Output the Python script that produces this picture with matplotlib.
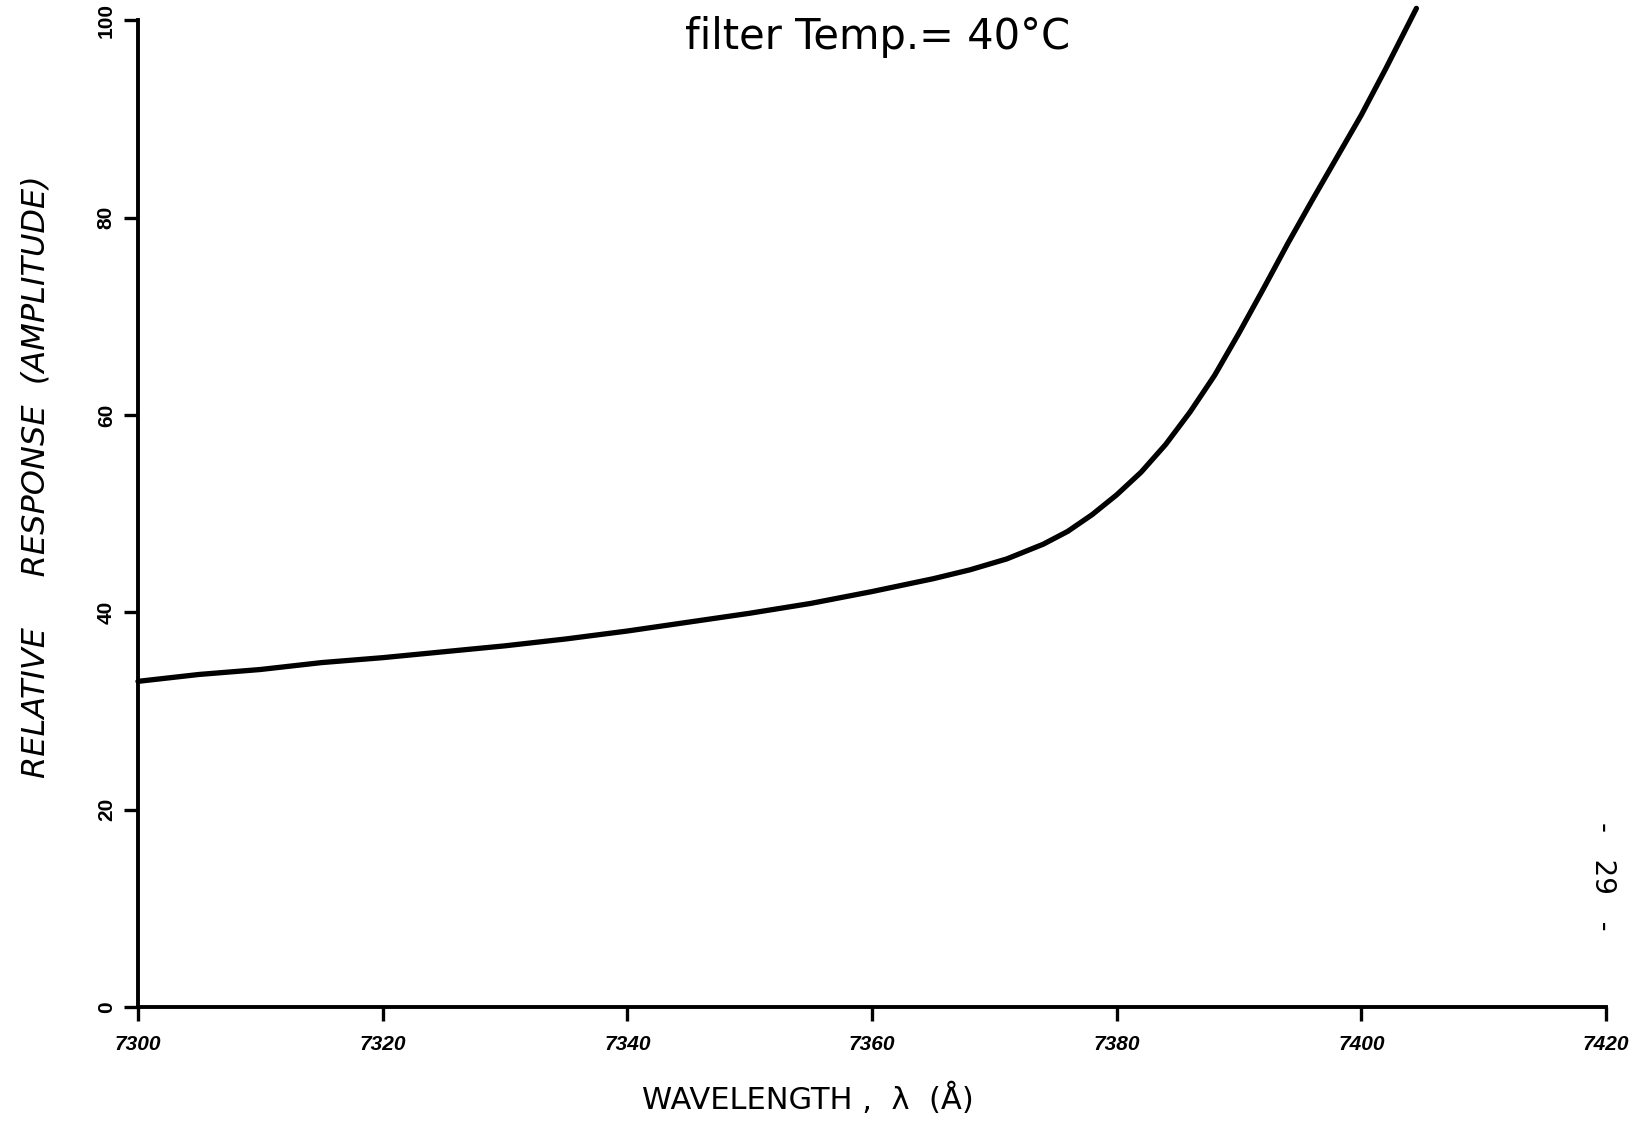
import matplotlib.pyplot as plt

# data
wavelength = [7300, 7305, 7310, 7315, 7320, 7325, 7330, 7335, 7340, 7345,
              7350, 7355, 7360, 7365, 7368, 7371, 7374, 7376, 7378, 7380,
              7382, 7384, 7386, 7388, 7390, 7392, 7394, 7396, 7398, 7400,
              7402, 7404.5]
response = [33.0, 33.7, 34.2, 34.9, 35.4, 36.0, 36.6, 37.3, 38.1, 39.0,
            39.9, 40.9, 42.1, 43.4, 44.3, 45.4, 46.9, 48.2, 49.9, 51.9,
            54.2, 57.0, 60.3, 64.0, 68.3, 72.8, 77.4, 81.8, 86.1, 90.4,
            95.1, 101.2]

x_ticks = [7300, 7320, 7340, 7360, 7380, 7400, 7420]
x_ticklabels = ["7300", "7320", "7340", "7360", "7380", "7400", "7420"]
y_ticks = [0, 20, 40, 60, 80, 100]
y_ticklabels = ["0", "20", "40", "60", "80", "100"]

fig = plt.figure(figsize=(16.29, 11.22), dpi=100)
ax = fig.add_axes([0.0847, 0.1025, 0.9012, 0.8795])

ax.plot(wavelength, response, color="black", lw=3.8, solid_capstyle="round",
        solid_joinstyle="round", clip_on=False)

ax.set_xlim(7300, 7420)
ax.set_ylim(0, 100)

for side in ["top", "right"]:
    ax.spines[side].set_visible(False)
for side in ["left", "bottom"]:
    ax.spines[side].set_linewidth(2.8)

tick_font = dict(family="Liberation Sans", size=15, weight="bold")
ax.set_xticks(x_ticks)
ax.set_xticklabels(x_ticklabels, fontstyle="italic", **tick_font)
ax.set_yticks(y_ticks)
ax.set_yticklabels(y_ticklabels, rotation=90, va="center", **tick_font)
ax.tick_params(axis="both", direction="out", length=10, width=2.4)
ax.tick_params(axis="x", pad=10)
ax.tick_params(axis="y", pad=6)

# hand-lettered labels
fig.text(0.539, 0.967, "filter Temp.= 40°C", ha="center", va="center",
         fontsize=30)
fig.text(0.496, 0.021, "WAVELENGTH ,  λ  (Å)", ha="center", va="center",
         fontsize=22)
fig.text(0.022, 0.575, "RELATIVE     RESPONSE  (AMPLITUDE)", ha="center",
         va="center", rotation=90, fontsize=23, fontstyle="italic")
fig.text(0.984, 0.219, "-   29   -", ha="center", va="center", rotation=-90,
         fontsize=20)

plt.savefig("out.png", dpi=100)
